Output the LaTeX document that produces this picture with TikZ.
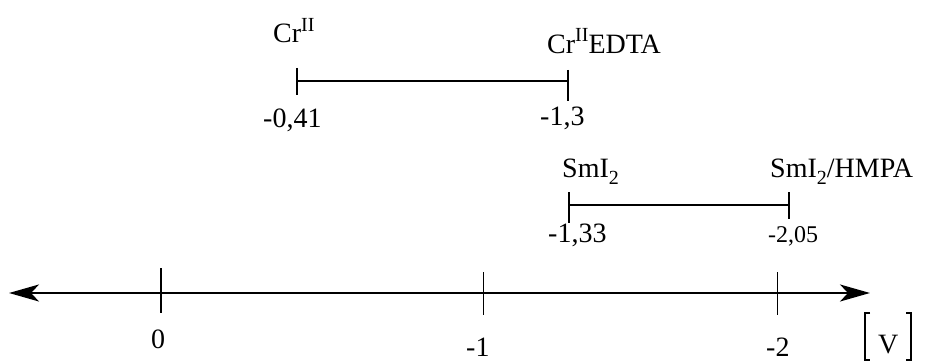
\documentclass[tikz,border=0pt]{standalone}
\usepackage{fontspec}
\setmainfont{Liberation Serif}
\usetikzlibrary{arrows.meta}
\newcommand{\supidx}[1]{\raisebox{11pt}{\fontsize{20}{20}\selectfont #1}}
\newcommand{\subidx}[1]{\raisebox{-7pt}{\fontsize{20}{20}\selectfont #1}}
\tikzset{
  lbl/.style={anchor=base west, inner sep=0pt, font=\fontsize{28}{30}\selectfont},
  smalllbl/.style={anchor=base west, inner sep=0pt, font=\fontsize{24}{26}\selectfont},
  bar/.style={line width=2pt},
  thintick/.style={line width=1pt},
  axis/.style={line width=2pt, {Stealth[length=30pt,width=17pt,inset=8pt]}-{Stealth[length=30pt,width=17pt,inset=8pt]}},
}
\begin{document}
\begin{tikzpicture}[x=1pt,y=-1pt]
\useasboundingbox (0,0) rectangle (926,361);
% axis
\coordinate (axL) at (9,293);
\coordinate (axR) at (870,293);
\draw[axis] (axL) -- (axR);
\coordinate (t0a) at (161,268); \coordinate (t0b) at (161,313);
\coordinate (t1a) at (483,272); \coordinate (t1b) at (483,315);
\coordinate (t2a) at (777,272); \coordinate (t2b) at (777,315);
\draw[bar] (t0a) -- (t0b);
\draw[thintick] (t1a) -- (t1b);
\draw[thintick] (t2a) -- (t2b);
\node[lbl] (z0) at (151,348) {0};
\node[lbl] (z1) at (466,356) {-1};
\node[lbl] (z2) at (766,356) {-2};
% unit [V]
\node[lbl] (unit) at (878,353) {V};
\coordinate (bl1) at (865,313); \coordinate (bl2) at (865,360);
\coordinate (br1) at (911,313); \coordinate (br2) at (911,360);
\draw[line width=1.2pt] ([xshift=5pt]bl1) -- (bl1) -- (bl2) -- ([xshift=5pt]bl2);
\draw[line width=1.2pt] ([xshift=-5pt]br1) -- (br1) -- (br2) -- ([xshift=-5pt]br2);
% Cr bar
\coordinate (c1) at (297,81); \coordinate (c2) at (568,81);
\draw[bar] (c1) -- (c2);
\draw[bar] (297,68) -- (297,95);
\draw[bar] (568,70) -- (568,101);
\node[lbl] (cr) at (273,43) {Cr\supidx{II}};
\node[lbl] (credta) at (547,53) {Cr\supidx{II}EDTA};
\node[lbl] (v041) at (263,127) {-0,41};
\node[lbl] (v13) at (540,125) {-1,3};
% Sm bar
\coordinate (s1) at (569,205); \coordinate (s2) at (789,205);
\draw[bar] (s1) -- (s2);
\draw[bar] (569,192) -- (569,223);
\draw[bar] (789,192) -- (789,219);
\node[lbl] (smi) at (562,177) {SmI\subidx{2}};
\node[lbl] (smih) at (770,177) {SmI\subidx{2}/HMPA};
\node[lbl] (v133) at (548,242) {-1,33};
\node[smalllbl] (v205) at (768,242) {-2,05};
\end{tikzpicture}
\end{document}
